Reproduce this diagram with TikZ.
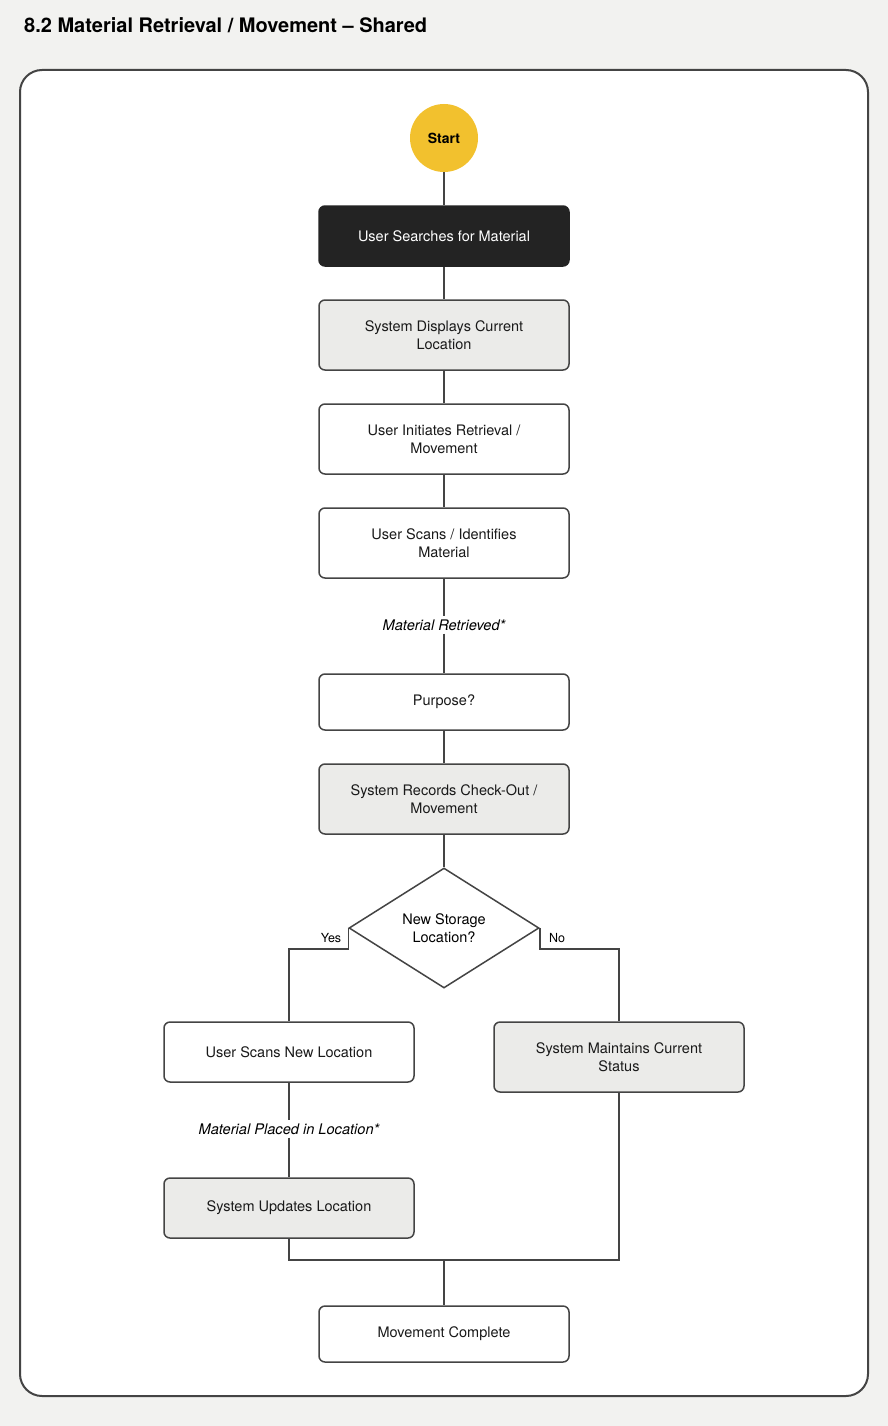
\documentclass[tikz,border=0pt]{standalone}
\usepackage{fontspec}
\setmainfont{TeX Gyre Heros}
\usetikzlibrary{shapes.geometric}
\definecolor{bgc}{HTML}{F2F2F0}
\definecolor{linec}{HTML}{444444}
\definecolor{boxgrey}{HTML}{EBEBE9}
\definecolor{darkbox}{HTML}{232323}
\definecolor{startc}{HTML}{F2C12E}
\tikzset{
  stepbox/.style={draw=linec, line width=1.5pt, rounded corners=6pt, fill=white,
    minimum width=250pt, minimum height=60pt, align=center, inner sep=0pt,
    font=\fontsize{14.5}{18}\selectfont, text=black!90},
  tallbox/.style={stepbox, minimum height=70pt},
  greybox/.style={fill=boxgrey},
  conn/.style={draw=linec, line width=1.5pt},
  flowlbl/.style={fill=white, inner sep=3pt, font=\fontsize{14.6}{18}\selectfont\itshape},
  yn/.style={font=\fontsize{12.5}{14}\selectfont, inner sep=0pt}
}
\begin{document}
\begin{tikzpicture}[x=1pt,y=-1pt]
\useasboundingbox (0,0) rectangle (888,1426);
\fill[bgc] (0,0) rectangle (888,1426);
\draw[draw=linec, line width=2pt, fill=white, rounded corners=22pt] (20,70) rectangle (868,1396);
\node[anchor=west, inner sep=0pt, font=\fontsize{20}{24}\selectfont\bfseries] (title) at (24,25) {8.2 Material Retrieval / Movement -- Shared};

\node[circle, fill=startc, minimum size=68pt, inner sep=0pt, font=\fontsize{14}{16}\selectfont\bfseries] (start) at (444,138) {Start};
\node[stepbox, fill=darkbox, draw=darkbox, text=white] (b1) at (444,236) {User Searches for Material};
\node[tallbox, greybox] (b2) at (444,335) {System Displays Current\\Location};
\node[tallbox] (b3) at (444,439) {User Initiates Retrieval /\\Movement};
\node[tallbox] (b4) at (444,543) {User Scans / Identifies\\Material};
\node[flowlbl] (l1) at (444,625) {Material Retrieved*};
\node[stepbox, minimum height=56pt] (b5) at (444,702) {Purpose?};
\node[tallbox, greybox] (b6) at (444,799) {System Records Check-Out /\\Movement};
\node[diamond, draw=linec, line width=1.5pt, fill=white, minimum width=190pt, minimum height=120pt, inner sep=0pt, align=center, font=\fontsize{14.5}{18}\selectfont] (d) at (444,928) {New Storage\\Location?};
\node[stepbox] (b7) at (289,1052) {User Scans New Location};
\node[tallbox, greybox] (b8) at (619,1057) {System Maintains Current\\Status};
\node[flowlbl] (l2) at (289,1129) {Material Placed in Location*};
\node[stepbox, greybox] (b9) at (289,1208) {System Updates Location};
\node[stepbox, minimum height=56pt] (b10) at (444,1334) {Movement Complete};
\node[yn] (yes) at (331,938) {Yes};
\node[yn] (no) at (557,938) {No};
\coordinate (m1) at (289,1260);
\coordinate (m2) at (619,1260);
\coordinate (mc) at (444,1260);

\draw[conn] (start) -- (b1);
\draw[conn] (b1) -- (b2);
\draw[conn] (b2) -- (b3);
\draw[conn] (b3) -- (b4);
\draw[conn] (b4) -- (l1);
\draw[conn] (l1) -- (b5);
\draw[conn] (b5) -- (b6);
\draw[conn] (b6) -- (d);
\draw[conn] (d.west) -- ++(0,21) -| (b7.north);
\draw[conn] (d.east) -- ++(0,21) -| (b8.north);
\draw[conn] (b7) -- (l2);
\draw[conn] (l2) -- (b9);
\draw[conn] (b9.south) |- (mc) -| (b8.south);
\draw[conn] (mc) -- (b10);
\end{tikzpicture}
\end{document}
